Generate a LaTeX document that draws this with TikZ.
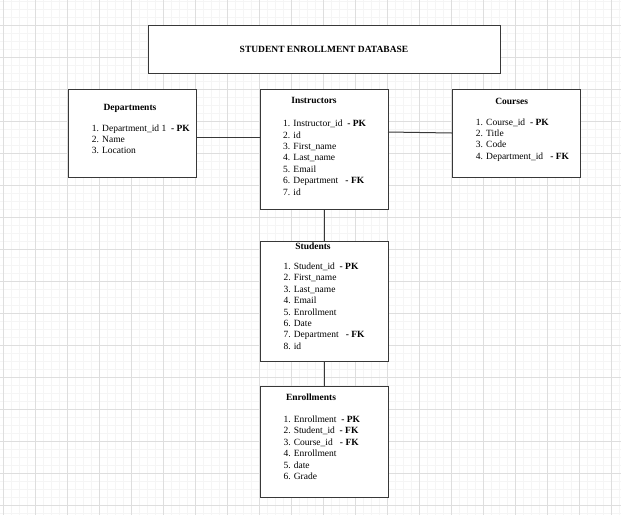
\documentclass[tikz,border=0pt]{standalone}
\usepackage{fontspec}
\setmainfont{Liberation Serif}
\begin{document}
\begin{tikzpicture}[x=1pt,y=-1pt,
  minorgrid/.style={draw=black!4,line width=0.6pt},
  majorgrid/.style={draw=black!13,line width=0.8pt},
  tbox/.style={draw=black!78,line width=1pt,fill=white,inner sep=0pt,outer sep=0pt},
  ttl/.style={font=\fontsize{9.5}{11.4}\selectfont\bfseries,inner sep=0pt,anchor=base},
  lst/.style={font=\fontsize{9.5}{11.4}\selectfont,inner sep=0pt,anchor=north west,align=left},
  conn/.style={draw=black!78,line width=1pt}]
\useasboundingbox (0,0) rectangle (621,515);
\fill[white] (0,0) rectangle (621,515);
% grid
\foreach \x in {3,11,...,619} \draw[minorgrid] (\x,0) -- (\x,515);
\foreach \y in {1,9,...,513} \draw[minorgrid] (0,\y) -- (621,\y);
\foreach \x in {3,35,...,611} \draw[majorgrid] (\x,0) -- (\x,515);
\foreach \y in {25,57,...,505} \draw[majorgrid] (0,\y) -- (621,\y);
% boxes
\node[tbox,minimum width=352pt,minimum height=48pt] (title) at (324,49) {};
\node[tbox,minimum width=128pt,minimum height=88pt] (dept) at (132,133) {};
\node[tbox,minimum width=128pt,minimum height=120pt] (instr) at (324,149) {};
\node[tbox,minimum width=128pt,minimum height=88pt] (courses) at (516,133) {};
\node[tbox,minimum width=128pt,minimum height=120pt] (stud) at (324,301) {};
\node[tbox,minimum width=128pt,minimum height=111pt] (enr) at (324,441.5) {};
% connectors
\draw[conn] (dept.east |- 0,137) -- (instr.west |- 0,137);
\draw[conn] (instr.east |- 0,132) -- (courses.west |- 0,133);
\draw[conn] (instr.south) -- (stud.north);
\draw[conn] (stud.south) -- (enr.north);
% texts
\node[ttl] (titletext) at (324,52) {STUDENT ENROLLMENT DATABASE};
\node[ttl] (deptt) at (130,110) {Departments};
\node[lst] (deptl) at (91.7,124.4) {1. Department\_id 1\ \ \textbf{- PK}\\2. Name\\3. Location};
\node[ttl] (instrt) at (314,103.2) {Instructors};
\node[lst] (instrl) at (283,120) {1. Instructor\_id\ \ \textbf{- PK}\\2. id\\3. First\_name\\4. Last\_name\\5. Email\\6. Department\ \ \ \textbf{- FK}\\7. id};
\node[ttl] (courset) at (511.7,104) {Courses};
\node[lst] (coursel) at (475.7,118.4) {1. Course\_id\ \ \textbf{- PK}\\2. Title\\3. Code\\4. Department\_id\ \ \ \textbf{- FK}};
\node[ttl] (studt) at (313,249) {Students};
\node[lst] (studl) at (283.3,262.7) {1. Student\_id\ \ \textbf{- PK}\\2. First\_name\\3. Last\_name\\4. Email\\5. Enrollment\\6. Date\\7. Department\ \ \ \textbf{- FK}\\8. id};
\node[ttl] (enrt) at (311,400) {Enrollments};
\node[lst] (enrl) at (283.3,415.7) {1. Enrollment\ \ \textbf{- PK}\\2. Student\_id\ \ \textbf{- FK}\\3. Course\_id\ \ \ \textbf{- FK}\\4. Enrollment\\5. date\\6. Grade};
\end{tikzpicture}
\end{document}
